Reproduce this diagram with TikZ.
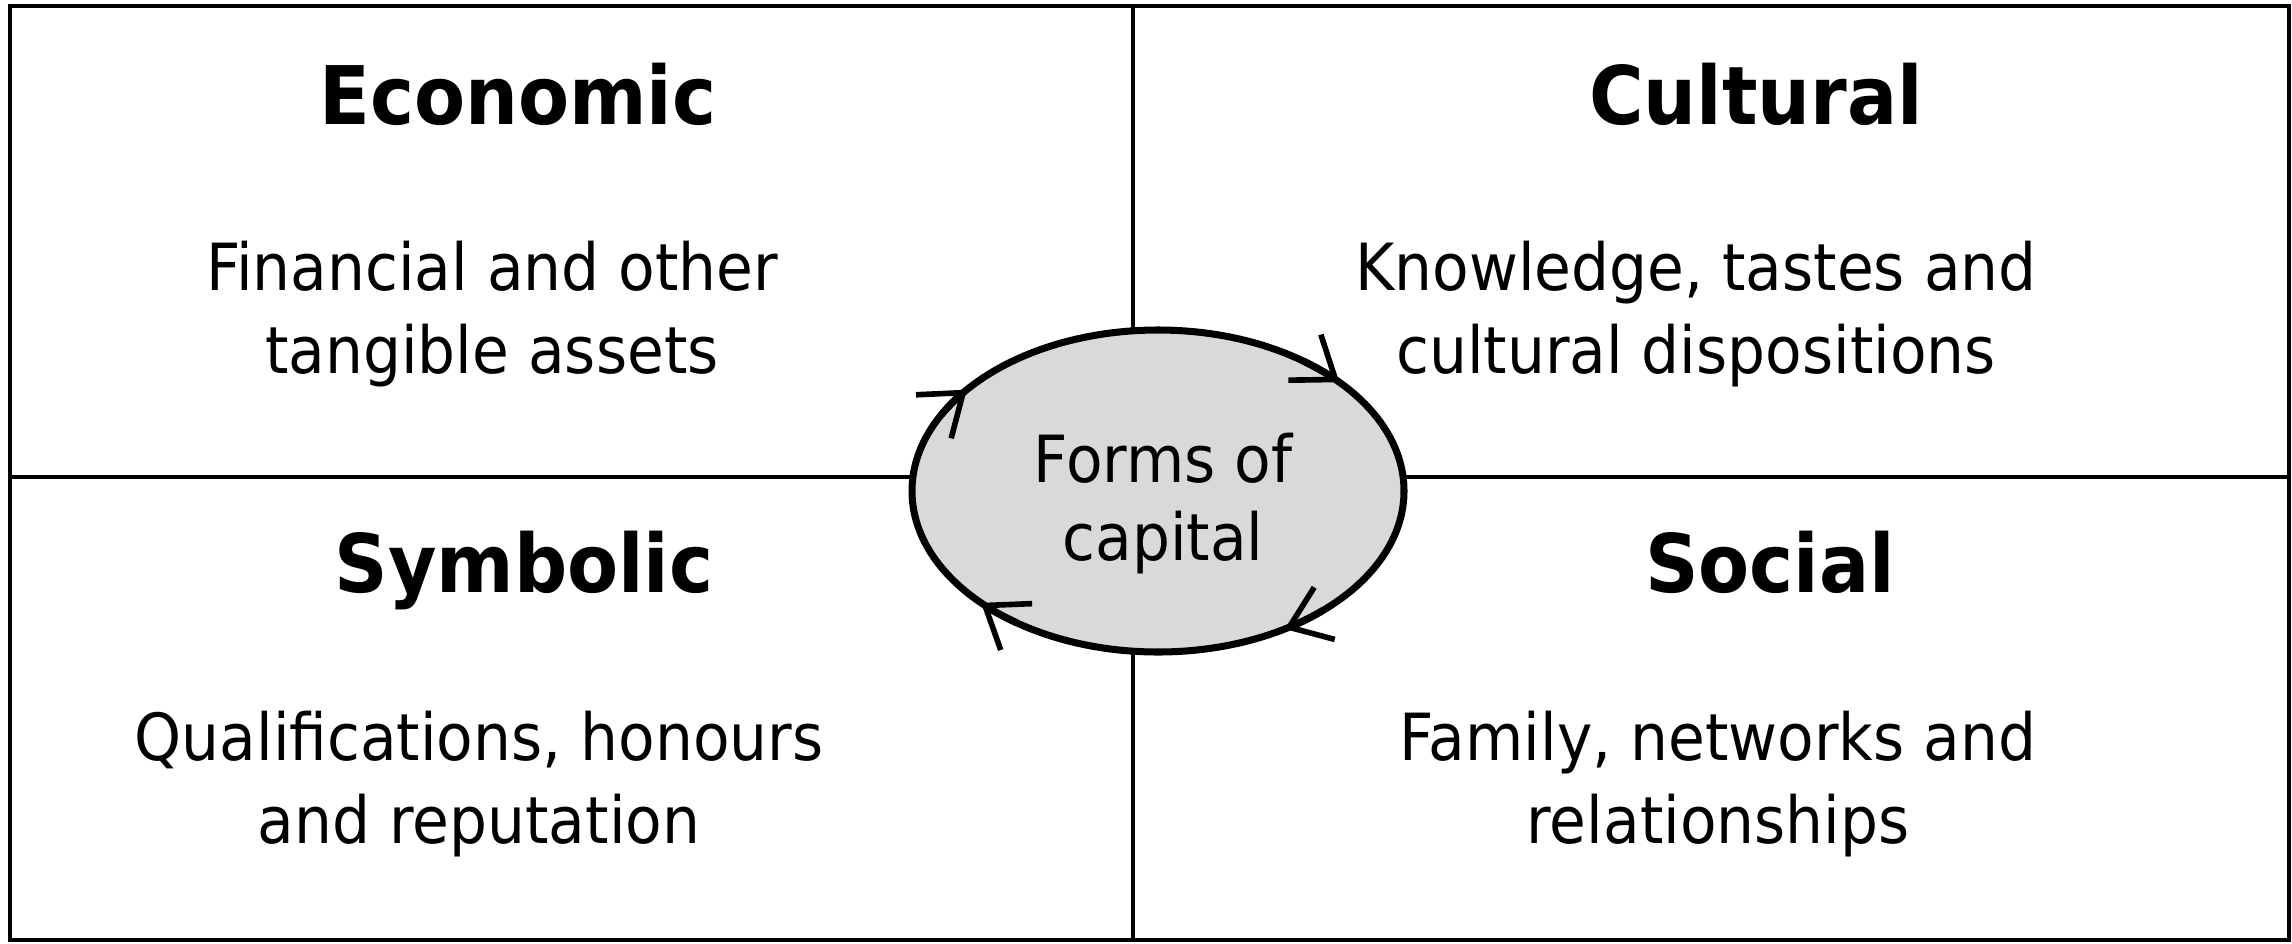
\documentclass[tikz,border=0pt]{standalone}
\usepackage{fontspec}
\setmainfont{DejaVu Sans}[FakeStretch=0.92]
\usetikzlibrary{arrows.meta,shapes.geometric}
\tikzset{
  frameline/.style={line width=1.4pt,black},
  head/.style={font=\fontsize{23}{28}\selectfont\bfseries,anchor=base,inner sep=0pt},
  body/.style={font=\fontsize{18.5}{23.6}\selectfont,align=center,anchor=base,inner sep=0pt},
  capnode/.style={ellipse,draw,line width=2pt,fill=black!15,minimum width=4.92cm,minimum height=3.22cm,inner sep=0pt},
  cyc/.style={line width=2pt,-{Straight Barb[length=0.38cm,width=0.56cm,line width=1.6pt]}}
}
\begin{document}
\begin{tikzpicture}
\useasboundingbox (0,0) rectangle (22.92,-9.44);
% frame and dividers
\draw[frameline] (0.10,-0.06) rectangle (22.89,-9.40);
\coordinate (vt) at (11.33,-0.06);
\coordinate (vb) at (11.33,-9.40);
\coordinate (hl) at (0.10,-4.77);
\coordinate (hr) at (22.89,-4.77);
\draw[frameline] (vt) -- (vb);
\draw[frameline] (hl) -- (hr);
% centre ellipse
\node[capnode] (cap) at (11.58,-4.91) {};
\node[font=\fontsize{18.5}{22.1}\selectfont,align=center,anchor=base,inner sep=0pt] (captxt) at (11.63,-5.60) {Forms of\\capital};
% cycle arrowheads (clockwise)
\draw[cyc] (cap.center) ++(54:2.46 and 1.61) arc[start angle=54,end angle=42.5,x radius=2.46,y radius=1.61];
\draw[cyc] (cap.center) ++(152:2.46 and 1.61) arc[start angle=152,end angle=141,x radius=2.46,y radius=1.61];
\draw[cyc] (cap.center) ++(235:2.46 and 1.61) arc[start angle=235,end angle=224,x radius=2.46,y radius=1.61];
\draw[cyc] (cap.center) ++(312:2.46 and 1.61) arc[start angle=312,end angle=301,x radius=2.46,y radius=1.61];
% quadrant headings
\node[head] (econ) at (5.18,-1.24) {Economic};
\node[head] (cult) at (17.56,-1.24) {Cultural};
\node[head] (symb) at (5.24,-5.92) {Symbolic};
\node[head] (soc) at (17.70,-5.92) {Social};
% quadrant descriptions (anchored at the baseline of the last line)
\node[body] (econtxt) at (4.92,-3.73) {Financial and other\\tangible assets};
\node[body] (culttxt) at (16.96,-3.73) {Knowledge, tastes and\\cultural dispositions};
\node[body] (symbtxt) at (4.79,-8.43) {Qualifications, honours\\and reputation};
\node[body] (soctxt) at (17.18,-8.43) {Family, networks and\\relationships};
\end{tikzpicture}
\end{document}
